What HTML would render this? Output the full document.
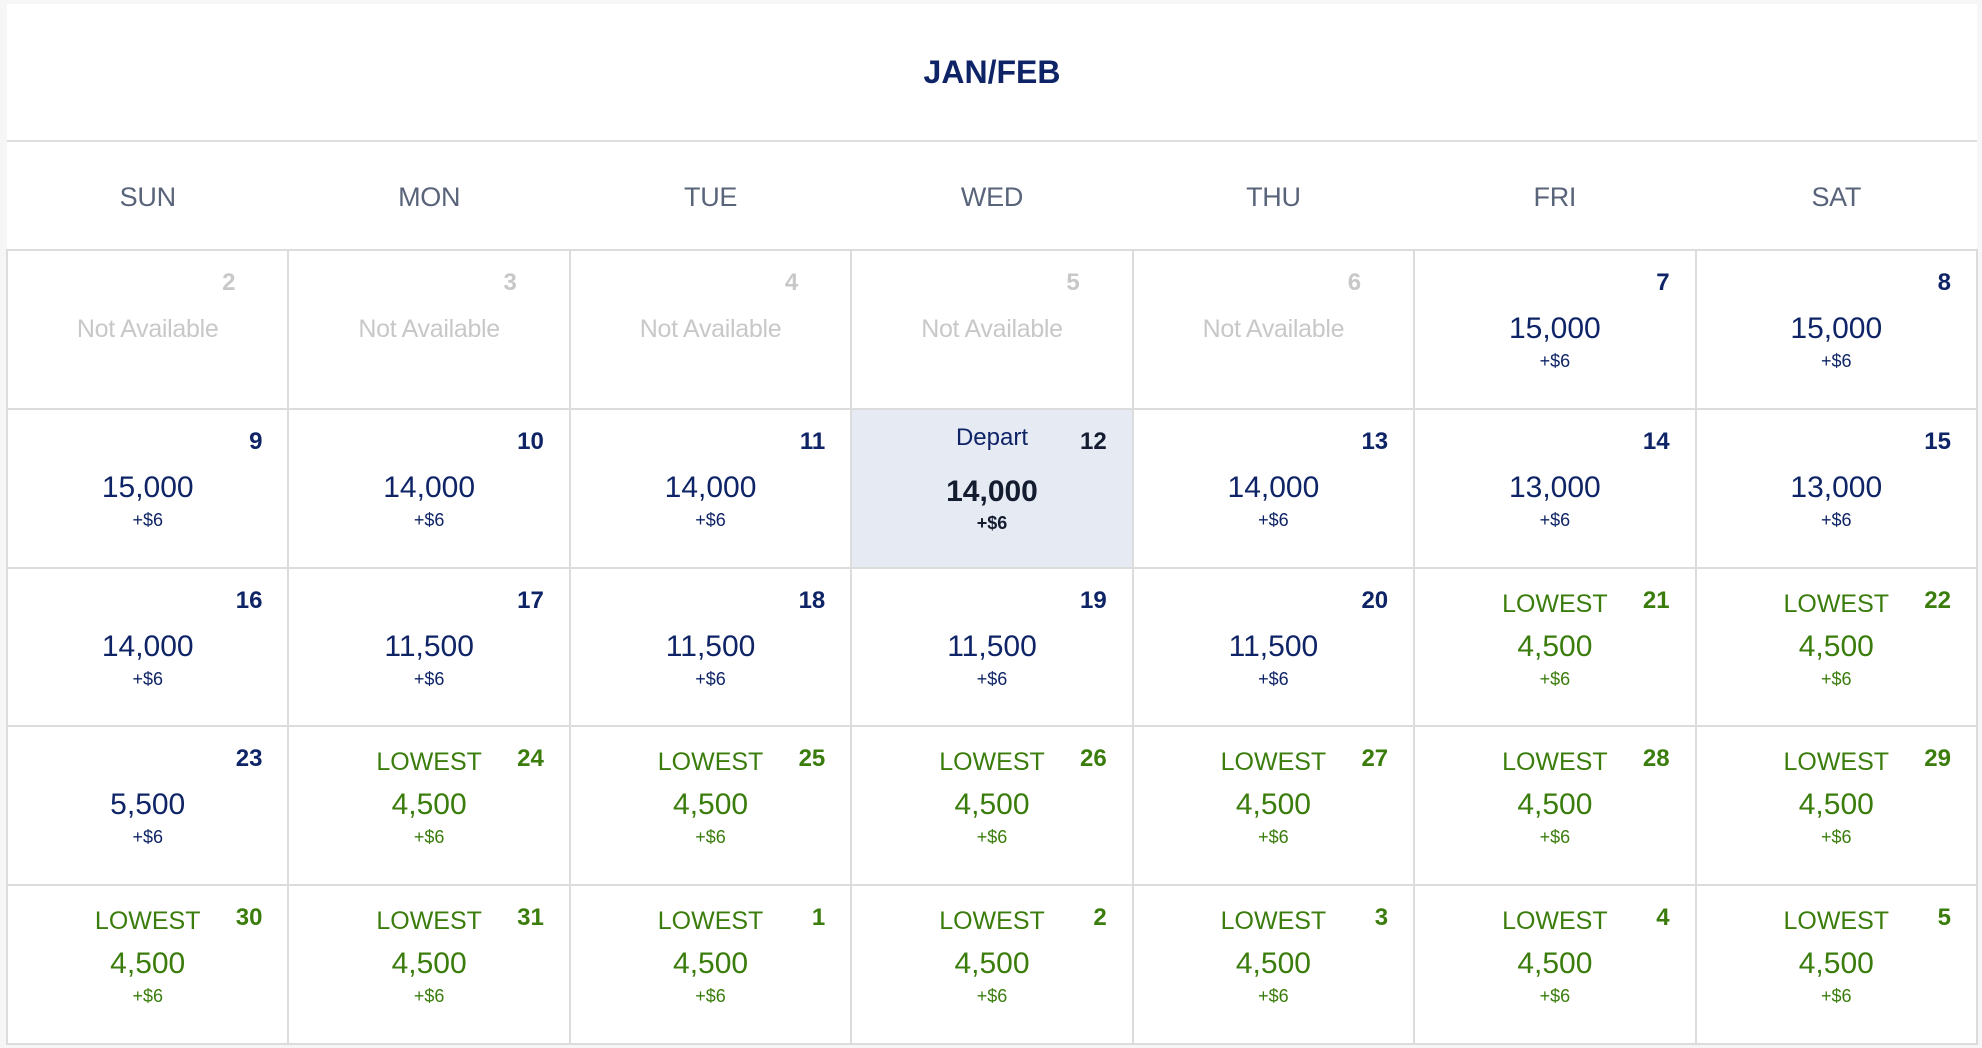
<!DOCTYPE html>
<html><head><meta charset="utf-8"><style>
body{margin:0;width:1982px;height:1048px;background:#f6f6f6;font-family:"Liberation Sans",sans-serif;overflow:hidden;position:relative}
.card{position:absolute;left:7px;top:4px;width:1970px;height:1040px;background:#fff}
.title{position:absolute;left:0;width:100%;top:48px;text-align:center;font-size:32px;font-weight:bold;color:#0e2466;line-height:40px}
.hl{position:absolute;left:0;width:100%;top:136px;height:2px;background:#dedede}
.wd{position:absolute;top:173px;display:flex;width:100%;left:0}
.wd div{flex:1;text-align:center;font-size:27px;color:#59647a;line-height:40px;letter-spacing:-0.3px}
.grid{position:absolute;left:-1px;top:245px;width:1972px;height:796px;background:#dcdcdc;display:grid;grid-template-columns:repeat(7,1fr);grid-template-rows:repeat(5,1fr);gap:2px;padding:2px;box-sizing:border-box}
.c{background:#fff;position:relative;color:#0e2466}
.c span{position:absolute;left:0;width:100%;text-align:center;white-space:nowrap}
.c .d{left:auto;right:25px;width:auto;top:18px;font-size:24px;font-weight:bold;line-height:28px}
.c .p{top:62px;font-size:30px;line-height:32px}
.c .f{top:100px;font-size:18px;line-height:20px}
.c .l{top:21px;font-size:25px;line-height:28px}
.g{color:#3b7d0d}
.n .d{color:#c8c8c8;right:52px}
.n .na{top:63px;font-size:25px;color:#c8c8c8;line-height:30px;letter-spacing:-0.3px}
.dp{background:#e6eaf3}
.dp .d{color:#141c30}
.dp .lb{top:14px;font-size:24px;line-height:28px}
.dp .p{top:66px;font-weight:bold;color:#141c30}
.dp .f{top:103px;font-weight:bold;color:#141c30}
</style></head><body>
<div class="card">
<div class="title">JAN/FEB</div>
<div class="hl"></div>
<div class="wd"><div>SUN</div><div>MON</div><div>TUE</div><div>WED</div><div>THU</div><div>FRI</div><div>SAT</div></div>
<div class="grid">
<div class="c n"><span class="d">2</span><span class="na">Not Available</span></div>
<div class="c n"><span class="d">3</span><span class="na">Not Available</span></div>
<div class="c n"><span class="d">4</span><span class="na">Not Available</span></div>
<div class="c n"><span class="d">5</span><span class="na">Not Available</span></div>
<div class="c n"><span class="d">6</span><span class="na">Not Available</span></div>
<div class="c"><span class="d">7</span><span class="p">15,000</span><span class="f">+$6</span></div>
<div class="c"><span class="d">8</span><span class="p">15,000</span><span class="f">+$6</span></div>

<div class="c"><span class="d">9</span><span class="p">15,000</span><span class="f">+$6</span></div>
<div class="c"><span class="d">10</span><span class="p">14,000</span><span class="f">+$6</span></div>
<div class="c"><span class="d">11</span><span class="p">14,000</span><span class="f">+$6</span></div>
<div class="c dp"><span class="lb">Depart</span><span class="d">12</span><span class="p">14,000</span><span class="f">+$6</span></div>
<div class="c"><span class="d">13</span><span class="p">14,000</span><span class="f">+$6</span></div>
<div class="c"><span class="d">14</span><span class="p">13,000</span><span class="f">+$6</span></div>
<div class="c"><span class="d">15</span><span class="p">13,000</span><span class="f">+$6</span></div>

<div class="c"><span class="d">16</span><span class="p">14,000</span><span class="f">+$6</span></div>
<div class="c"><span class="d">17</span><span class="p">11,500</span><span class="f">+$6</span></div>
<div class="c"><span class="d">18</span><span class="p">11,500</span><span class="f">+$6</span></div>
<div class="c"><span class="d">19</span><span class="p">11,500</span><span class="f">+$6</span></div>
<div class="c"><span class="d">20</span><span class="p">11,500</span><span class="f">+$6</span></div>
<div class="c g"><span class="l">LOWEST</span><span class="d">21</span><span class="p">4,500</span><span class="f">+$6</span></div>
<div class="c g"><span class="l">LOWEST</span><span class="d">22</span><span class="p">4,500</span><span class="f">+$6</span></div>

<div class="c"><span class="d">23</span><span class="p">5,500</span><span class="f">+$6</span></div>
<div class="c g"><span class="l">LOWEST</span><span class="d">24</span><span class="p">4,500</span><span class="f">+$6</span></div>
<div class="c g"><span class="l">LOWEST</span><span class="d">25</span><span class="p">4,500</span><span class="f">+$6</span></div>
<div class="c g"><span class="l">LOWEST</span><span class="d">26</span><span class="p">4,500</span><span class="f">+$6</span></div>
<div class="c g"><span class="l">LOWEST</span><span class="d">27</span><span class="p">4,500</span><span class="f">+$6</span></div>
<div class="c g"><span class="l">LOWEST</span><span class="d">28</span><span class="p">4,500</span><span class="f">+$6</span></div>
<div class="c g"><span class="l">LOWEST</span><span class="d">29</span><span class="p">4,500</span><span class="f">+$6</span></div>

<div class="c g"><span class="l">LOWEST</span><span class="d">30</span><span class="p">4,500</span><span class="f">+$6</span></div>
<div class="c g"><span class="l">LOWEST</span><span class="d">31</span><span class="p">4,500</span><span class="f">+$6</span></div>
<div class="c g"><span class="l">LOWEST</span><span class="d">1</span><span class="p">4,500</span><span class="f">+$6</span></div>
<div class="c g"><span class="l">LOWEST</span><span class="d">2</span><span class="p">4,500</span><span class="f">+$6</span></div>
<div class="c g"><span class="l">LOWEST</span><span class="d">3</span><span class="p">4,500</span><span class="f">+$6</span></div>
<div class="c g"><span class="l">LOWEST</span><span class="d">4</span><span class="p">4,500</span><span class="f">+$6</span></div>
<div class="c g"><span class="l">LOWEST</span><span class="d">5</span><span class="p">4,500</span><span class="f">+$6</span></div>
</div>
</div>
</body></html>
